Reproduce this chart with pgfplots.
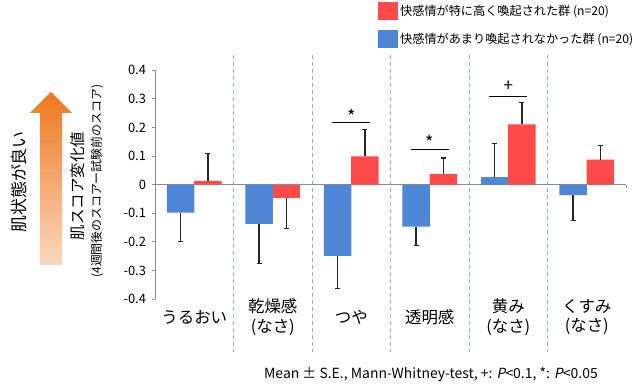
\documentclass[border=0pt]{standalone}
\usepackage{fontspec}
\setmainfont{Noto Sans CJK JP}[AutoFakeSlant=0.2]
\usepackage{pgfplots}
\pgfplotsset{compat=1.18}
\definecolor{blue0}{RGB}{79,134,214}
\definecolor{red0}{RGB}{255,74,74}
\definecolor{sep}{RGB}{150,175,210}
\definecolor{axg}{RGB}{140,140,140}
\definecolor{orA}{RGB}{236,120,30}
\definecolor{orB}{RGB}{252,216,190}
\begin{document}
\begin{tikzpicture}
\useasboundingbox (0,0) rectangle (640bp,391bp);
% orange arrow
\shade[top color=orA, bottom color=orB, draw=none]
  (51bp,299bp) -- (72bp,278bp) -- (62bp,278bp) -- (62bp,126bp) -- (40bp,126bp) -- (40bp,278bp) -- (30bp,278bp) -- cycle;
\node[rotate=90, font=\fontsize{17}{20}\selectfont] at (19bp,209bp) {肌状態が良い};
\node[rotate=90, font=\fontsize{15.5}{18}\selectfont] at (78bp,205bp) {肌スコア変化値};
\node[rotate=90, font=\fontsize{12}{14}\selectfont] at (97bp,210bp) {(4週間後のスコアー試験前のスコア)};
\node[font=\fontsize{14}{16}\selectfont] at (431bp,16bp) {Mean ± S.E., Mann-Whitney-test, +: \textit{P}<0.1, *: \textit{P}<0.05};
\begin{axis}[
  at={(155bp,92bp)}, anchor=south west,
  scale only axis, width=471bp, height=228.8bp,
  xmin=-0.5, xmax=5.5, ymin=-0.4, ymax=0.4,
  clip=false,
  axis x line=none,
  axis y line*=left,
  y axis line style={draw=axg, line width=1bp},
  ytick={-0.4,-0.3,-0.2,-0.1,0,0.1,0.2,0.3,0.4},
  yticklabels={-0.4,-0.3,-0.2,-0.1,0,0.1,0.2,0.3,0.4},
  ytick style={draw=axg, line width=1bp},
  major tick length=3.5bp,
  tick align=outside,
  yticklabel style={font=\fontsize{13}{15}\selectfont, xshift=-2bp},
  legend style={at={(axis description cs:0.4735,1.298)}, anchor=north west, draw=none, fill=none, inner sep=0pt, row sep=10bp, font=\fontsize{12.2}{14}\selectfont,
    /tikz/every even column/.append style={column sep=8bp}},
  legend cell align=left,
  legend image code/.code={\fill[#1] (0bp,-9bp) rectangle (20bp,9bp);},
  errst/.style={
    /pgfplots/error bars/y explicit,
    /pgfplots/error bars/error bar style={draw=black!85, line width=1.2bp},
    /pgfplots/error bars/error mark=-,
    /pgfplots/error bars/error mark options={rotate=90, draw=black!85, line width=1.2bp, mark size=2.5bp}},
]
\addlegendimage{fill=red0, draw=none}
\addlegendentry{快感情が特に高く喚起された群 (n=20)}
\addlegendimage{fill=blue0, draw=none}
\addlegendentry{快感情があまり喚起されなかった群 (n=20)}

% separators
\foreach \s in {0.5,1.5,2.5,3.5,4.5}{
  \edef\tmp{\noexpand\draw[sep, line width=0.9bp, dash pattern=on 4bp off 3bp] (axis cs:\s,0.453) -- (axis cs:\s,-0.585);}
  \tmp
}
% zero line
\addplot[axg, line width=1.2bp, forget plot] coordinates {(-0.5,0) (5.5,0)};
\addplot[axg, line width=1bp, forget plot] coordinates {(5.5,0) (5.5,-0.012)};

% category labels
\foreach \lab [count=\i from 0] in {うるおい,{乾燥感\\(なさ)},つや,透明感,{黄み\\(なさ)},{くすみ\\(なさ)}}{
  \edef\tmp{\noexpand\node[align=center, font=\noexpand\fontsize{16.5}{20}\noexpand\selectfont] at (axis cs:\i,-0.4) [yshift=-18bp] {\unexpanded\expandafter{\lab}};}
  \tmp
}

% blue bars
\addplot[ybar, bar width=27.5bp, bar shift=0pt, fill=blue0, draw=none, forget plot,
  errst, /pgfplots/error bars/y dir=minus]
  coordinates {(-0.175,-0.098) +- (0,0.102) (0.825,-0.137) +- (0,0.14) (1.825,-0.249) +- (0,0.115) (2.825,-0.147) +- (0,0.067) (4.825,-0.037) +- (0,0.089)};
\addplot[ybar, bar width=27.5bp, bar shift=0pt, fill=blue0, draw=none, forget plot,
  errst, /pgfplots/error bars/y dir=plus]
  coordinates {(3.825,0.025) +- (0,0.118)};
% red bars
\addplot[ybar, bar width=27.5bp, bar shift=0pt, fill=red0, draw=none, forget plot,
  errst, /pgfplots/error bars/y dir=plus]
  coordinates {(0.175,0.013) +- (0,0.095) (2.175,0.099) +- (0,0.095) (3.175,0.037) +- (0,0.056) (4.175,0.211) +- (0,0.076) (5.175,0.087) +- (0,0.049)};
\addplot[ybar, bar width=27.5bp, bar shift=0pt, fill=red0, draw=none, forget plot,
  errst, /pgfplots/error bars/y dir=minus]
  coordinates {(1.175,-0.047) +- (0,0.107)};

% significance
\draw[black, line width=1bp] (axis cs:1.76,0.216) -- (axis cs:2.24,0.216);
\node[anchor=base, font=\fontsize{18}{20}\selectfont, inner sep=0pt] at (axis cs:2,0.215) {*};
\draw[black, line width=1bp] (axis cs:2.76,0.122) -- (axis cs:3.24,0.122);
\node[anchor=base, font=\fontsize{18}{20}\selectfont, inner sep=0pt] at (axis cs:3,0.121) {*};
\draw[black, line width=1bp] (axis cs:3.76,0.309) -- (axis cs:4.24,0.309);
\node[anchor=base, font=\fontsize{17}{20}\selectfont, inner sep=0pt] at (axis cs:4,0.326) {+};
\end{axis}
\end{tikzpicture}
\end{document}
